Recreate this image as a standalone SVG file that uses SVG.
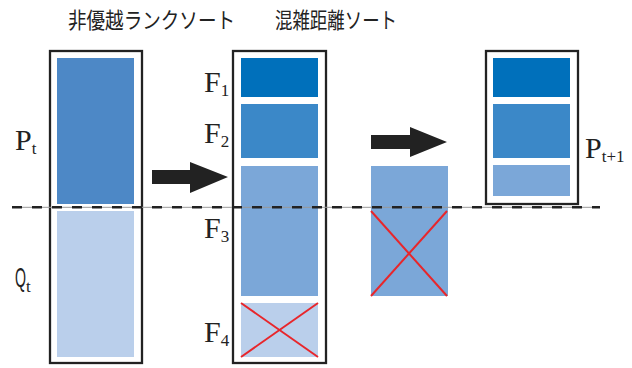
<svg xmlns="http://www.w3.org/2000/svg" width="632" height="368" viewBox="0 0 632 368">
<style>
.box{fill:#fff;stroke:#222;stroke-width:2.3}
.c1{fill:#0070bb}.c2{fill:#3b88c8}.c3{fill:#7ba7d8}.c4{fill:#bacfeb}.cp{fill:#4d88c6}
.x{stroke:#e8262b;stroke-width:2}
.lab{font-family:"Liberation Serif",serif;fill:#222}
.title{font-family:"Noto Sans CJK JP",sans-serif;font-size:22px;fill:#222}
.arrow{fill:#222}
</style>
<rect width="632" height="368" fill="#fff"/>
<text class="title" x="68" y="28" textLength="167" lengthAdjust="spacingAndGlyphs">非優越ランクソート</text>
<text class="title" x="275" y="28" textLength="122" lengthAdjust="spacingAndGlyphs">混雑距離ソート</text>
<g id="pop">
<rect class="box" x="50" y="51" width="92" height="312"/>
<rect class="cp" x="57" y="58" width="77" height="146"/>
<rect class="c4" x="57" y="211" width="77" height="146"/>
<text class="lab" x="15" y="150" font-size="30">P<tspan font-size="17" dy="4">t</tspan></text>
<text class="lab" x="15" y="287" font-size="28"><tspan style="font-family:'Liberation Sans',sans-serif" textLength="11" lengthAdjust="spacingAndGlyphs">Q</tspan><tspan font-size="17" dy="5">t</tspan></text>
</g>
<g id="fronts">
<rect class="box" x="233" y="51" width="93" height="312"/>
<rect class="c1" x="241" y="58" width="77" height="39"/>
<rect class="c2" x="241" y="104" width="77" height="54"/>
<rect class="c3" x="241" y="166" width="77" height="130"/>
<rect class="c4" x="241" y="303" width="77" height="54"/>
<line class="x" x1="241" y1="303" x2="318" y2="357"/>
<line class="x" x1="318" y1="303" x2="241" y2="357"/>
<text class="lab" x="204" y="92" font-size="30">F<tspan font-size="17" dy="4">1</tspan></text>
<text class="lab" x="204" y="143" font-size="30">F<tspan font-size="17" dy="4">2</tspan></text>
<text class="lab" x="204" y="238" font-size="30">F<tspan font-size="17" dy="4">3</tspan></text>
<text class="lab" x="204" y="342" font-size="30">F<tspan font-size="17" dy="4">4</tspan></text>
</g>
<g id="crowd">
<rect class="c3" x="371" y="166" width="77" height="130"/>
<line class="x" x1="371" y1="211" x2="447" y2="296"/>
<line class="x" x1="447" y1="211" x2="371" y2="296"/>
</g>
<g id="next">
<rect class="box" x="486" y="51" width="92" height="153"/>
<rect class="c1" x="493" y="58" width="77" height="39"/>
<rect class="c2" x="493" y="104" width="77" height="54"/>
<rect class="c3" x="493" y="165" width="77" height="31"/>
<text class="lab" x="585" y="158" font-size="30">P<tspan font-size="17" dy="4">t+1</tspan></text>
</g>
<g id="connectors">
<line x1="12" y1="207.3" x2="600" y2="207.3" stroke="#999" stroke-width="1"/>
<line x1="12" y1="207.3" x2="600" y2="207.3" stroke="#222" stroke-width="2.6" stroke-dasharray="10 10"/>
<polygon class="arrow" points="152,170 190,170 190,162 228,177 190,193 190,184 152,184"/>
<polygon class="arrow" points="371,135 410,135 410,127 447,142 410,157 410,149 371,149"/>
</g>
</svg>
